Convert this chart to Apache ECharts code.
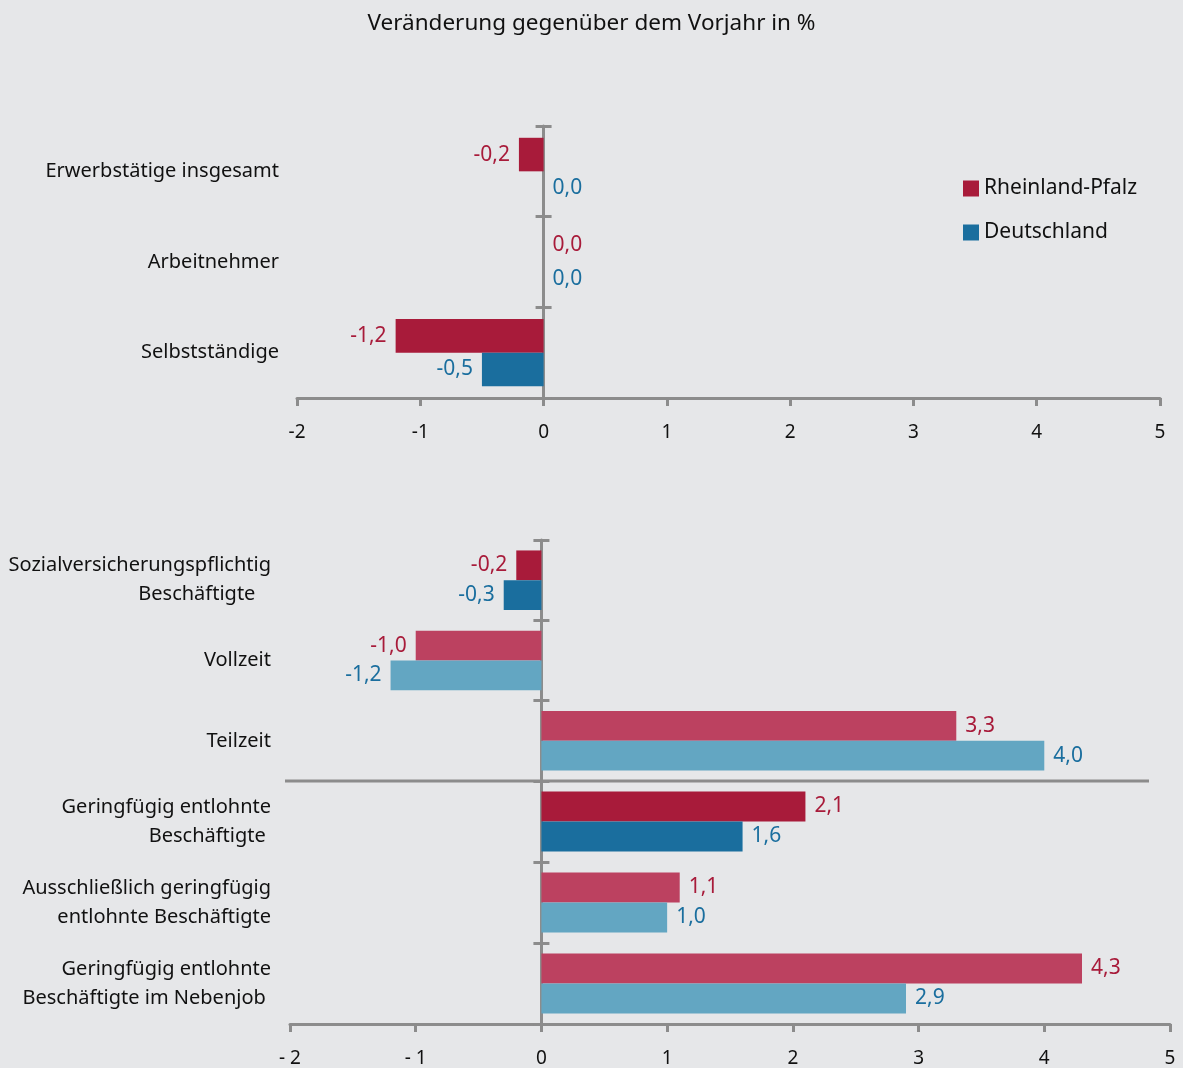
<!DOCTYPE html>
<html>
<head>
<meta charset="utf-8">
<script src="https://cdn.jsdelivr.net/npm/echarts@6/dist/echarts.min.js"></script>
<style>
  html, body { margin: 0; padding: 0; background: #e6e7e9; }
  #chart { width: 1183px; height: 1068px; }
</style>
</head>
<body>
<div id="chart"></div>
<script>
// Erwerbstätige (oberer Block)
const topCats = ['Erwerbstätige insgesamt', 'Arbeitnehmer', 'Selbstständige']
const topRP = [-0.2, 0.0, -1.2]
const topDE = [0.0, 0.0, -0.5]

// Sozialversicherungspflichtig Beschäftigte
const svCats = ['Sozialversicherungspflichtig\nBeschäftigte   ', 'Vollzeit', 'Teilzeit']
const svRP = [-0.2, -1.0, 3.3]
const svDE = [-0.3, -1.2, 4.0]

// Geringfügig entlohnte Beschäftigte
const gfCats = ['Geringfügig entlohnte\nBeschäftigte ', 'Ausschließlich geringfügig\nentlohnte Beschäftigte', 'Geringfügig entlohnte\nBeschäftigte im Nebenjob ']
const gfRP = [2.1, 1.1, 4.3]
const gfDE = [1.6, 1.0, 2.9]

const xMin = -2
const xMax = 5

// Farben
const rpDark = '#a81b3a'
const rpLight = '#bc4160'
const deDark = '#1a6e9e'
const deLight = '#63a6c2'
const axisGray = '#8c8c8c'
const font = 'Noto Sans'

// Kategorien mit dunkler Füllung (Summenzeilen)
const darkCats = new Set([topCats[0], topCats[1], topCats[2], svCats[0], gfCats[0]])

const fmt = v => v.toFixed(1).replace('.', ',')

const chart = echarts.init(document.getElementById('chart'))

const grids = [
  { left: 297, right: 23, top: 126, height: 272 },
  { left: 290, right: 13, top: 540, height: 241 },
  { left: 290, right: 13, top: 781, height: 243 }
]

const makeX = (gridIndex, showAxis, spaced) => ({
  type: 'value',
  gridIndex,
  min: xMin,
  max: xMax,
  interval: 1,
  splitLine: { show: false },
  axisLine: { show: showAxis, onZero: false, lineStyle: { color: axisGray, width: 3 } },
  axisTick: { show: showAxis, length: 8, lineStyle: { color: axisGray, width: 3 } },
  axisLabel: {
    show: showAxis,
    margin: 25,
    fontFamily: font,
    fontSize: 19,
    color: '#111',
    formatter: v => spaced && v < 0 ? '- ' + Math.abs(v) : String(v)
  }
})

// je Block: Beschriftungsachse links, Nulllinie mit Strichen nach links und nach rechts
const makeY = (gridIndex, cats, margin) => [
  {
    type: 'category',
    gridIndex,
    data: cats,
    inverse: true,
    position: 'left',
    axisLine: { show: false, onZero: false },
    axisTick: { show: false },
    axisLabel: {
      margin,
      fontFamily: font,
      fontSize: 20,
      lineHeight: 29,
      color: '#111',
      align: 'right'
    }
  },
  {
    type: 'category',
    gridIndex,
    data: cats,
    inverse: true,
    position: 'left',
    axisLine: { show: true, onZero: true, onZeroAxisIndex: gridIndex, lineStyle: { color: axisGray, width: 3 } },
    axisTick: { show: true, length: 8, lineStyle: { color: axisGray, width: 3 } },
    axisLabel: { show: false }
  },
  {
    type: 'category',
    gridIndex,
    data: cats,
    inverse: true,
    position: 'right',
    axisLine: { show: false, onZero: true, onZeroAxisIndex: gridIndex },
    axisTick: { show: true, length: 8, lineStyle: { color: axisGray, width: 3 } },
    axisLabel: { show: false }
  }
]

const makeSeries = (name, gridIndex, cats, values, dark, light, labelColor) => ({
  name,
  type: 'bar',
  xAxisIndex: gridIndex,
  yAxisIndex: gridIndex * 3,
  barCategoryGap: '26%',
  barGap: '0%',
  itemStyle: { color: dark },
  data: values.map((v, i) => ({
    value: v,
    itemStyle: { color: darkCats.has(cats[i]) ? dark : light },
    label: { position: v < 0 ? 'left' : 'right' }
  })),
  label: {
    show: true,
    distance: 9,
    fontFamily: font,
    fontSize: 21,
    color: labelColor,
    formatter: p => fmt(p.value)
  }
})

const option = {
  backgroundColor: '#e6e7e9',
  animation: false,
  title: {
    text: 'Veränderung gegenüber dem Vorjahr in %',
    left: 'center',
    top: 7,
    textStyle: { fontFamily: font, fontSize: 22.5, fontWeight: 'normal', color: '#111' }
  },
  legend: {
    data: ['Rheinland-Pfalz', 'Deutschland'],
    orient: 'vertical',
    left: 958,
    top: 173,
    icon: 'rect',
    itemWidth: 16,
    itemHeight: 16,
    itemGap: 23,
    textStyle: { fontFamily: font, fontSize: 21, color: '#111' }
  },
  // Trennlinie zwischen SV-Beschäftigten und geringfügig Beschäftigten
  graphic: [
    {
      type: 'line',
      shape: { x1: 285, y1: 781, x2: 1149, y2: 781 },
      style: { stroke: axisGray, lineWidth: 3 },
      z: 1
    }
  ],
  grid: grids,
  xAxis: [makeX(0, true, false), makeX(1, false, false), makeX(2, true, true)],
  yAxis: [...makeY(0, topCats, 18), ...makeY(1, svCats, 19), ...makeY(2, gfCats, 19)],
  series: [
    makeSeries('Rheinland-Pfalz', 0, topCats, topRP, rpDark, rpLight, rpDark),
    makeSeries('Deutschland', 0, topCats, topDE, deDark, deLight, deDark),
    makeSeries('Rheinland-Pfalz', 1, svCats, svRP, rpDark, rpLight, rpDark),
    makeSeries('Deutschland', 1, svCats, svDE, deDark, deLight, deDark),
    makeSeries('Rheinland-Pfalz', 2, gfCats, gfRP, rpDark, rpLight, rpDark),
    makeSeries('Deutschland', 2, gfCats, gfDE, deDark, deLight, deDark)
  ]
}

chart.setOption(option)
</script>
</body>
</html>
